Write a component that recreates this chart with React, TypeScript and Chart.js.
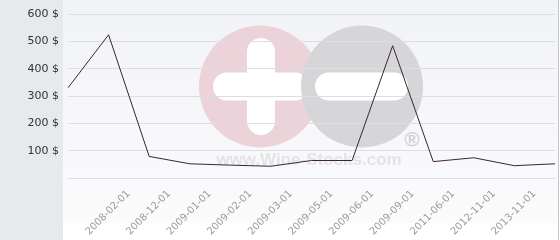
import React, { useEffect, useRef } from 'react';
import { Chart, registerables } from 'chart.js';

Chart.register(...registerables);

// Date labels shown under the axis (first and last points carry no label)
const dateLabels = [
  '2008-02-01', '2008-12-01', '2009-01-01', '2009-02-01', '2009-03-01',
  '2009-05-01', '2009-06-01', '2009-09-01', '2011-06-01', '2012-11-01', '2013-11-01',
];
const categories = ['', ...dateLabels, ''];
const prices = [330, 524, 79, 52, 47, 43, 64, 64, 484, 60, 74, 45, 52];
const yMin = 0;
const yMax = 600;
const yStep = 100;

const backgroundPlugin = {
  id: 'bgWatermark',
  beforeDraw(chart: any) {
    const { ctx, width, height } = chart;
    ctx.save();
    ctx.fillStyle = '#ffffff';
    ctx.fillRect(0, 0, width, height);
    ctx.fillStyle = '#e6eaed';
    ctx.fillRect(0, 0, 63, height);
    const g = ctx.createLinearGradient(0, 0, 0, 223);
    g.addColorStop(0, '#f2f3f7');
    g.addColorStop(1, '#fbfbfc');
    ctx.fillStyle = g;
    ctx.fillRect(63, 0, 495, 223);
    ctx.fillStyle = '#c4c6c9';
    ctx.fillRect(558, 0, 1, height);

    // watermark
    const cy = 86.5;
    ctx.fillStyle = '#ebd3d9';
    ctx.beginPath();
    ctx.arc(260, cy, 61, 0, Math.PI * 2);
    ctx.fill();
    ctx.lineCap = 'round';
    ctx.strokeStyle = '#ffffff';
    ctx.lineWidth = 28;
    ctx.beginPath();
    ctx.moveTo(227, cy);
    ctx.lineTo(295, cy);
    ctx.moveTo(261, 52);
    ctx.lineTo(261, 121);
    ctx.stroke();
    ctx.fillStyle = '#d6d6d8';
    ctx.beginPath();
    ctx.arc(362, cy, 61, 0, Math.PI * 2);
    ctx.fill();
    ctx.beginPath();
    ctx.moveTo(329, cy);
    ctx.lineTo(394, cy);
    ctx.stroke();
    ctx.fillStyle = '#e4e4e6';
    ctx.font = 'bold 17px "Liberation Sans", Arial, sans-serif';
    ctx.textAlign = 'center';
    ctx.textBaseline = 'alphabetic';
    ctx.fillText('www.Wine-Stocks.com', 309, 165);
    ctx.fillStyle = '#d0d0d2';
    ctx.font = 'bold 21px "Liberation Sans", Arial, sans-serif';
    ctx.fillText('®', 412, 146);
    ctx.restore();
  },
};

export default function App() {
  const canvasRef = useRef<HTMLCanvasElement | null>(null);

  useEffect(() => {
    document.body.style.margin = '0';
    const canvas = canvasRef.current;
    if (!canvas) return;
    const chart = new Chart(canvas, {
      type: 'line',
      data: {
        labels: categories,
        datasets: [
          {
            data: prices,
            borderColor: '#3d2433',
            borderWidth: 1,
            pointRadius: 0,
            tension: 0,
            fill: false,
          },
        ],
      },
      options: {
        animation: false,
        responsive: false,
        devicePixelRatio: 1,
        layout: { padding: { top: 14, right: 5, left: 0, bottom: 0 } },
        plugins: {
          legend: { display: false },
          tooltip: { enabled: false },
        },
        scales: {
          x: {
            offset: false,
            grid: { display: false, drawTicks: false },
            border: { display: false },
            ticks: {
              autoSkip: false,
              maxRotation: 45,
              minRotation: 45,
              labelOffset: 20,
              padding: 10,
              color: '#9a9a9a',
              font: { family: '"DejaVu Sans", sans-serif', size: 10 },
            },
            afterFit(scale: any) {
              scale.height = 62;
              scale.paddingLeft = 0;
              scale.paddingRight = 0;
            },
          },
          y: {
            min: yMin,
            max: yMax,
            grid: { color: '#dcdee3', drawTicks: false, lineWidth: 1 },
            border: { display: false },
            ticks: {
              stepSize: yStep,
              padding: 9,
              color: '#333333',
              font: { family: '"DejaVu Sans", sans-serif', size: 11 },
              callback: (v: any) => (Number(v) === 0 ? '' : `${v} $`),
            },
            afterFit(scale: any) {
              scale.width = 68;
              scale.paddingTop = 0;
              scale.paddingBottom = 0;
            },
          },
        },
      },
      plugins: [backgroundPlugin],
    });
    return () => chart.destroy();
  }, []);

  return (
    <div style={{ position: 'absolute', left: 0, top: 0, width: 560, height: 240 }}>
      <canvas ref={canvasRef} width={560} height={240} style={{ display: 'block', width: 560, height: 240 }} />
    </div>
  );
}
